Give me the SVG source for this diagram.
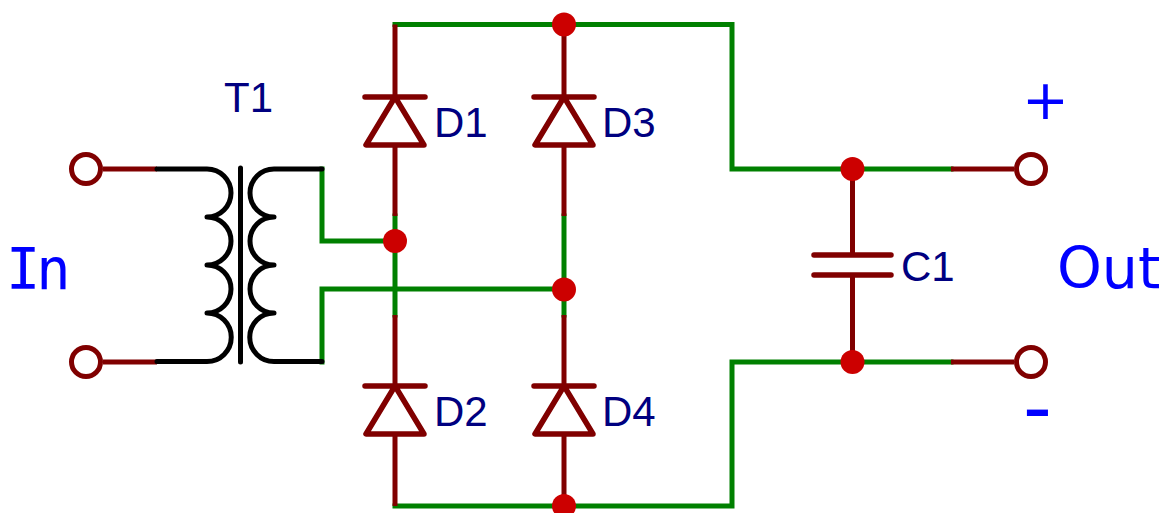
<svg xmlns="http://www.w3.org/2000/svg" width="1164" height="513" viewBox="0 0 1164 513">
<style>
.ref{font-family:"Liberation Sans",Arial,sans-serif;font-size:42px;fill:#000080}
.lab{font-family:"DejaVu Sans",Verdana,sans-serif;font-size:56px;fill:#0000ff}
.g{fill:none;stroke:#008000;stroke-width:5;stroke-linecap:square;stroke-linejoin:miter}
.m{fill:none;stroke:#800000;stroke-width:5;stroke-linecap:butt;stroke-linejoin:miter}
.mr{fill:none;stroke:#800000;stroke-width:5.500;stroke-linecap:round;stroke-linejoin:round}
.k{fill:none;stroke:#000;stroke-width:5;stroke-linecap:round;stroke-linejoin:round}
.j{fill:#cc0000}
.t{fill:#fff;stroke:#800000;stroke-width:5}
</style>
<defs>
<g id="diode">
<path class="mr" d="M-30 0H30M0 0L-29 48H29Z"/>
</g>
</defs>
<g id="connectors">
<path class="g" d="M395 24.500H732V169H951M395 506H732V362H951"/>
<path class="g" d="M322 169V241H395M322 362V289H564"/>
<path class="g" d="M395 216V315M564 216V315"/>
<path class="m" d="M395 24.500V97M395 145V216M395 315V386M395 434V506"/>
<path class="m" d="M564 24.500V97M564 145V216M564 315V386M564 434V506"/>
<path class="m" d="M103 169H157M103 362H157M951 169H1014M951 362H1014"/>
<path class="m" d="M852.500 169V255M852.500 275V362"/>
</g>
<g id="T1">
<path class="k" d="M157 169H207A24 24 0 0 1 207 217A24 24 0 0 1 207 265A24 24 0 0 1 207 313A24 24 0 0 1 207 361.500H157"/>
<path class="k" d="M240.500 168V362"/>
<path class="k" d="M322 169H274A24 24 0 0 0 274 217A24 24 0 0 0 274 265A24 24 0 0 0 274 313A24 24 0 0 0 274 361.500H322"/>
<text class="ref" x="224" y="112">T1</text>
</g>
<g id="D1"><use href="#diode" x="395" y="97"/><text class="ref" x="434" y="137">D1</text></g>
<g id="D2"><use href="#diode" x="395" y="386"/><text class="ref" x="434" y="426">D2</text></g>
<g id="D3"><use href="#diode" x="564" y="97"/><text class="ref" x="602" y="137">D3</text></g>
<g id="D4"><use href="#diode" x="564" y="386"/><text class="ref" x="602" y="426">D4</text></g>
<g id="C1">
<path class="mr" d="M814 255H891M814 275H891"/>
<text class="ref" x="901" y="281">C1</text>
</g>
<g id="junctions">
<circle class="j" cx="395" cy="241" r="12"/>
<circle class="j" cx="564" cy="24.500" r="12"/>
<circle class="j" cx="564" cy="289.500" r="12"/>
<circle class="j" cx="564" cy="506" r="12"/>
<circle class="j" cx="852.500" cy="169" r="12"/>
<circle class="j" cx="852.500" cy="362" r="12"/>
</g>
<g id="terminals">
<circle class="t" cx="86" cy="169" r="14.500"/>
<circle class="t" cx="86" cy="362" r="14.500"/>
<circle class="t" cx="1031" cy="169" r="14.500"/>
<circle class="t" cx="1031" cy="362" r="14.500"/>
</g>
<g id="labels">
<text class="lab" x="6" y="289" style="font-family:'DejaVu Sans Mono',monospace;font-size:57px;letter-spacing:-4px">In</text>
<text class="lab" x="1057" y="288" style="font-size:57px">Out</text>
<text class="lab" x="1022" y="119">+</text>
<text class="lab" x="1023" y="435" style="font-size:80px">-</text>
</g>
</svg>
